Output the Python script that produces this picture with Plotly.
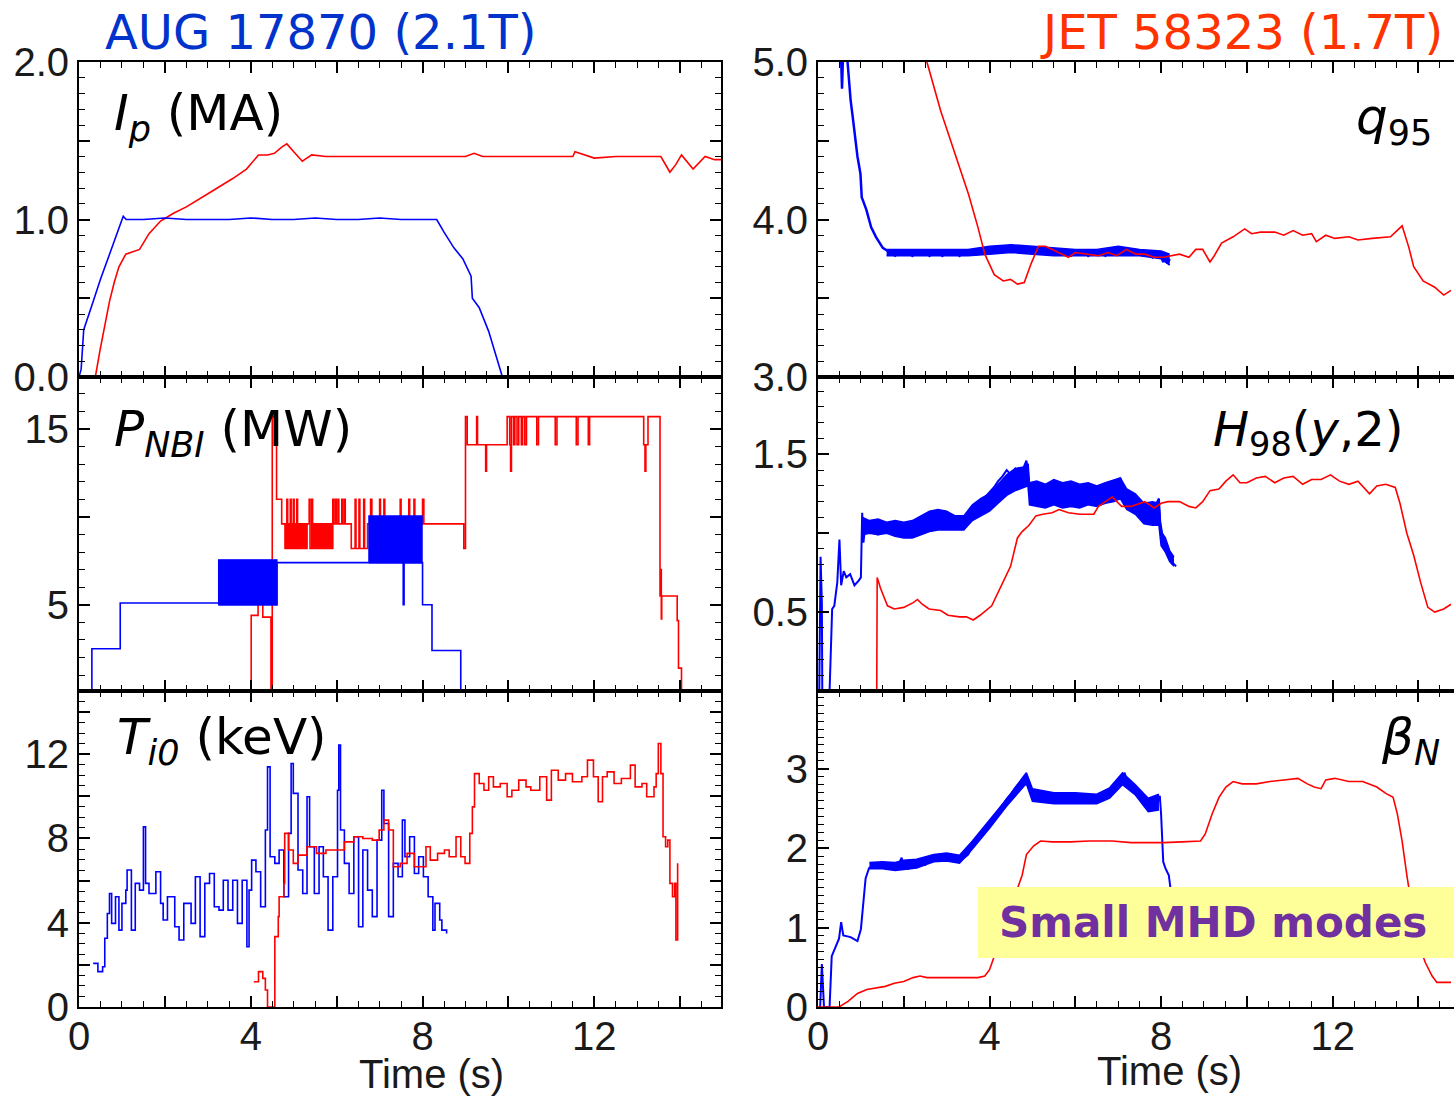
import plotly.graph_objects as go

# the page body margin is removed in the written page, so figure pixels map 1:1 onto the window
OFF = 0
FW, FH = 1454 - OFF, 1098 - OFF

# ---------------- data ----------------
# Ip (MA)
ip_aug_t = [0.0, 0.05, 0.11, 0.2, 0.33, 0.5, 0.66, 0.85, 0.98, 1.03, 1.1, 1.5, 2.0, 2.5, 3.0, 3.5, 4.0, 4.5,
            5.0, 5.5, 6.0, 6.5, 7.0, 7.5, 8.0, 8.33, 8.5, 8.73, 8.94, 9.05, 9.1, 9.13, 9.16, 9.32, 9.54, 9.7, 9.86]
ip_aug = [0.0, 0.05, 0.3, 0.38, 0.48, 0.62, 0.74, 0.88, 0.98, 1.02, 1.0, 1.0, 1.01, 1.0, 1.0, 1.0, 1.01, 1.0,
          1.0, 1.01, 1.0, 1.0, 1.01, 1.0, 1.0, 1.0, 0.92, 0.82, 0.75, 0.68, 0.66, 0.64, 0.5, 0.44, 0.29, 0.15, 0.0]
ip_jet_t = [0.0, 0.38, 0.49, 0.6, 0.71, 0.82, 0.93, 1.09, 1.3, 1.41, 1.63, 1.9, 2.2, 2.5, 3.04, 3.58, 3.9, 4.18,
            4.39, 4.55, 4.72, 4.84, 5.0, 5.2, 5.42, 5.75, 6.5, 7.5, 8.5, 9.0, 9.2, 9.4, 10.0, 11.0, 11.5, 11.55,
            12.0, 12.5, 13.0, 13.55, 13.76, 13.9, 14.03, 14.3, 14.58, 14.8, 15.0]
ip_jet = [0.0, 0.0, 0.17, 0.33, 0.48, 0.6, 0.70, 0.78, 0.80, 0.81, 0.91, 0.99, 1.04, 1.08, 1.17, 1.26, 1.32, 1.41,
          1.41, 1.42, 1.46, 1.48, 1.43, 1.37, 1.41, 1.40, 1.40, 1.40, 1.40, 1.40, 1.42, 1.40, 1.40, 1.40, 1.40, 1.43,
          1.39, 1.40, 1.40, 1.40, 1.30, 1.35, 1.41, 1.32, 1.40, 1.38, 1.38]

# P_NBI (MW), step signals
pnbi_aug_t = [0.29, 0.3, 0.96, 3.26, 4.61, 7.55, 7.57, 8.0, 8.22, 8.89, 9.0]
pnbi_aug = [0.0, 2.5, 5.1, 5.0, 7.4, 5.0, 7.4, 5.0, 2.4, 0.0, 0.0]
aug_band_t0 = [3.25, 6.75]
aug_band_t1 = [4.61, 7.99]
aug_band_lo = [5.0, 7.38]
aug_band_hi = [7.56, 10.05]

pnbi_jet_t = [4.0, 4.01, 4.17, 4.28, 4.47, 4.50, 4.60, 4.72, 4.80, 4.84, 4.86, 4.92, 4.94, 4.99, 5.01, 5.07,
              5.09, 5.31, 5.36, 5.38, 5.42, 5.44, 5.91, 5.93, 5.97, 5.99, 6.03, 6.05, 6.12, 6.14, 6.18, 6.2,
              6.34, 6.43, 6.45, 6.52, 6.54, 6.63, 6.65, 6.72, 6.79, 6.82, 6.86, 7.0, 7.02, 7.1, 7.12, 7.2,
              7.24, 7.48, 7.5, 7.62, 7.66, 7.68, 7.7, 7.8, 7.82, 8.0, 8.03, 8.96, 9.0, 9.04, 9.26, 9.28,
              9.47, 9.49, 9.97, 10.03, 10.05, 10.07, 10.12, 10.15, 10.2, 10.24, 10.3, 10.33, 10.38, 10.42,
              10.66, 10.7, 11.09, 11.13, 11.58, 11.62, 11.86, 11.89, 13.15, 13.18, 13.2, 13.25, 13.53,
              13.55, 13.56, 13.57, 13.93, 13.96, 14.03]
pnbi_jet = [0.0, 4.4, 5.5, 4.3, 0.0, 15.7, 11.0, 9.6, 8.2, 11.0, 8.2, 11.0, 8.2, 11.0, 8.2, 11.0,
            8.2, 9.6, 11.0, 8.2, 11.0, 8.2, 11.0, 9.6, 11.0, 9.6, 11.0, 9.6, 11.0, 9.6, 11.0, 9.6,
            8.2, 11.0, 8.2, 11.0, 8.2, 11.0, 8.2, 9.6, 11.0, 8.2, 9.6, 11.0, 9.6, 11.0, 9.6, 8.2,
            9.6, 11.0, 9.6, 8.2, 9.6, 11.0, 9.6, 11.0, 9.6, 11.0, 9.6, 8.2, 15.7, 14.1, 15.7, 14.1,
            12.6, 14.1, 15.7, 14.1, 12.6, 15.7, 14.1, 15.7, 14.1, 15.7, 14.1, 15.7, 14.1, 15.7,
            14.1, 15.7, 14.1, 15.7, 14.1, 15.7, 14.1, 15.7, 14.1, 12.6, 14.1, 15.7, 5.5,
            7.0, 4.2, 5.5, 4.1, 1.4, 0.0]
jet_band_t0 = [4.80, 5.45]
jet_band_t1 = [5.30, 5.88]
jet_band_lo = [8.24, 8.24]
jet_band_hi = [9.62, 9.62]

# Ti0 (keV)
ti_aug_t = [0.33, 0.44, 0.55, 0.60, 0.66, 0.71, 0.76, 0.85, 0.93, 1.0, 1.09, 1.12, 1.22, 1.31, 1.41, 1.50, 1.55,
            1.63, 1.79, 1.90, 1.96, 2.06, 2.23, 2.33, 2.44, 2.61, 2.71, 2.82, 2.93, 3.04, 3.15, 3.26, 3.36, 3.47,
            3.58, 3.69, 3.80, 3.91, 3.96, 4.02, 4.12, 4.23, 4.34, 4.39, 4.45, 4.56, 4.66, 4.77, 4.88, 4.94, 4.99,
            5.10, 5.21, 5.31, 5.37, 5.48, 5.59, 5.69, 5.80, 5.91, 6.02, 6.05, 6.09, 6.18, 6.29, 6.40, 6.51, 6.61,
            6.72, 6.83, 6.94, 7.05, 7.10, 7.21, 7.32, 7.43, 7.53, 7.59, 7.70, 7.81, 7.91, 8.02, 8.13, 8.24, 8.29,
            8.40, 8.45, 8.56]
ti_aug = [2.07, 1.68, 1.91, 3.26, 4.44, 5.39, 3.97, 5.23, 3.65, 4.92, 5.55, 6.5, 3.65, 5.87, 5.55, 8.55, 5.87,
          5.39, 6.42, 4.92, 4.13, 5.23, 3.81, 3.18, 4.92, 3.97, 6.18, 3.34, 5.87, 6.34, 4.76, 4.60, 6.02, 4.60,
          6.02, 3.97, 6.02, 2.86, 5.55, 6.97, 6.42, 4.76, 8.40, 11.40, 7.13, 6.82, 7.45, 5.23, 8.24, 11.56, 10.14,
          6.50, 5.39, 9.98, 7.61, 5.39, 7.61, 6.18, 3.65, 6.18, 10.29, 12.43, 8.40, 6.82, 5.39, 8.08, 3.81, 7.45,
          5.55, 4.29, 7.92, 10.29, 8.71, 4.29, 6.82, 6.18, 8.87, 7.13, 8.08, 6.34, 7.13, 6.18, 5.23, 3.65, 4.92,
          4.13, 3.65, 3.49]
ti_jet_t = [4.07, 4.18, 4.28, 4.34, 4.39, 4.50, 4.56, 4.64, 4.66, 4.77, 4.79, 4.88, 4.99, 5.10, 5.31, 5.53, 5.75,
            5.96, 6.18, 6.40, 6.61, 6.83, 6.99, 7.10, 7.21, 7.32, 7.48, 7.64, 7.81, 7.97, 8.08, 8.18, 8.35, 8.51,
            8.62, 8.78, 8.89, 8.99, 9.10, 9.16, 9.21, 9.32, 9.43, 9.54, 9.65, 9.81, 9.97, 10.08, 10.24, 10.41,
            10.52, 10.73, 10.89, 11.00, 11.16, 11.33, 11.49, 11.71, 11.84, 11.98, 12.09, 12.19, 12.30, 12.46,
            12.63, 12.84, 12.95, 13.11, 13.22, 13.39, 13.44, 13.49, 13.55, 13.60, 13.66, 13.71, 13.76, 13.82,
            13.87, 13.90, 13.94]
ti_jet = [1.20, 1.68, 1.36, 0.81, 0.0, 0.0, 3.34, 4.29, 5.23, 5.87, 8.24, 7.45, 6.82, 7.21, 7.61, 7.29, 7.45,
          7.45, 7.84, 8.08, 8.00, 7.92, 8.40, 8.87, 8.40, 6.66, 6.82, 7.29, 6.66, 6.66, 7.61, 6.97, 7.29, 7.45,
          7.13, 8.08, 7.13, 6.82, 8.24, 9.50, 11.08, 10.61, 10.29, 10.93, 10.45, 10.61, 9.98, 10.29, 10.77, 10.45,
          10.29, 10.93, 9.82, 11.24, 10.77, 11.08, 10.69, 10.93, 11.72, 10.93, 9.74, 10.93, 11.16, 10.61,
          10.85, 11.48, 10.45, 10.61, 9.98, 10.45, 11.08, 12.51, 11.08, 8.08, 7.61, 7.92, 5.87, 5.23,
          5.87, 3.18, 6.82]

# q95
q_aug_t = [0.45, 0.52, 0.56, 0.60, 0.66, 0.70, 0.76, 0.81, 0.86, 0.92, 0.99, 1.02, 1.05, 1.13, 1.24, 1.35, 1.51,
           1.68, 1.8, 1.9, 2.0, 2.1, 2.2, 2.3, 2.4, 2.5, 2.6, 2.7, 2.8, 2.9, 3.0, 3.1, 3.2, 3.3, 3.4, 3.5, 3.6,
           3.7, 3.8, 3.9, 4.0, 4.1, 4.2, 4.3, 4.4, 4.5, 4.6, 4.7, 4.8, 4.9, 5.0, 5.1, 5.2, 5.3, 5.4, 5.5, 5.6,
           5.7, 5.8, 5.9, 6.0, 6.1, 6.2, 6.3, 6.4, 6.5, 6.6, 6.7, 6.8, 6.9, 7.0, 7.1, 7.2, 7.3, 7.4, 7.5, 7.6,
           7.7, 7.8, 7.9, 8.0, 8.05, 8.1, 8.15, 8.2]
q_aug = [5.3, 5.2, 4.83, 5.2, 5.1, 4.95, 4.76, 4.65, 4.52, 4.40, 4.29, 4.14, 4.12, 4.06, 3.95, 3.89, 3.82,
         3.79, 3.77, 3.80, 3.78, 3.80, 3.77, 3.79, 3.78, 3.80, 3.77, 3.79, 3.80, 3.77, 3.79, 3.78, 3.80, 3.77,
         3.79, 3.78, 3.80, 3.78, 3.80, 3.79, 3.81, 3.79, 3.82, 3.80, 3.82, 3.80, 3.82, 3.81, 3.82, 3.80, 3.81,
         3.79, 3.81, 3.79, 3.80, 3.78, 3.80, 3.78, 3.79, 3.77, 3.79, 3.78, 3.80, 3.77, 3.79, 3.78, 3.79, 3.77,
         3.79, 3.78, 3.80, 3.81, 3.79, 3.80, 3.78, 3.79, 3.77, 3.79, 3.76, 3.78, 3.77, 3.73, 3.76, 3.72, 3.75]
# noise envelope of the AUG q95 trace
q_band_t = [1.6, 2.5, 3.5, 4.0, 4.5, 5.0, 5.5, 6.0, 6.5, 7.0, 7.5, 8.0, 8.2]
q_band_hi = [3.81, 3.81, 3.81, 3.83, 3.84, 3.83, 3.82, 3.81, 3.81, 3.83, 3.81, 3.80, 3.78]
q_band_lo = [3.77, 3.77, 3.77, 3.78, 3.79, 3.78, 3.77, 3.77, 3.77, 3.77, 3.77, 3.75, 3.71]
q_jet_t = [2.45, 2.54, 2.86, 3.19, 3.51, 3.73, 3.89, 4.11, 4.32, 4.49, 4.65, 4.81, 4.97, 5.14, 5.30, 5.46, 5.62,
           5.84, 6.0, 6.32, 6.54, 6.76, 6.97, 7.19, 7.41, 7.62, 7.84, 8.05, 8.27, 8.43, 8.65, 8.81, 8.97, 9.14,
           9.24, 9.41, 9.68, 9.95, 10.11, 10.32, 10.65, 10.86, 11.08, 11.3, 11.51, 11.62, 11.84, 12.05, 12.38,
           12.59, 12.92, 13.35, 13.62, 13.78, 13.89, 14.11, 14.38, 14.59, 14.76]
q_jet = [5.2, 5.0, 4.69, 4.42, 4.16, 3.95, 3.78, 3.65, 3.61, 3.62, 3.59, 3.60, 3.72, 3.83, 3.83, 3.81, 3.79,
         3.76, 3.79, 3.78, 3.77, 3.79, 3.77, 3.81, 3.78, 3.78, 3.76, 3.76, 3.77, 3.78, 3.76, 3.81, 3.81, 3.73,
         3.77, 3.85, 3.89, 3.94, 3.91, 3.92, 3.92, 3.90, 3.93, 3.90, 3.91, 3.86, 3.90, 3.88, 3.89,
         3.87, 3.88, 3.89, 3.96, 3.82, 3.70, 3.61, 3.57, 3.52, 3.55]

# H98(y,2)
h_aug_t = [0.03, 0.06, 0.09, 0.1, 0.27, 0.29, 0.33, 0.38, 0.45, 0.5, 0.54, 0.6, 0.66, 0.75, 0.85, 0.95, 1.0,
           1.03, 1.06, 1.1, 1.2, 1.3, 1.4, 1.5, 1.6, 1.7, 1.8, 1.9, 2.0, 2.1, 2.2, 2.3, 2.4, 2.5, 2.6, 2.7, 2.8,
           2.9, 3.0, 3.1, 3.2, 3.3, 3.4, 3.5, 3.6, 3.7, 3.8, 3.9, 4.0, 4.1, 4.2, 4.3, 4.4, 4.5, 4.6, 4.7, 4.8,
           4.86, 4.9, 4.92, 5.0, 5.1, 5.2, 5.3, 5.4, 5.5, 5.6, 5.7, 5.8, 5.9, 6.0, 6.1, 6.2, 6.3, 6.4, 6.5, 6.6,
           6.7, 6.8, 6.9, 7.0, 7.05, 7.1, 7.2, 7.3, 7.4, 7.5, 7.6, 7.67, 7.75, 7.85, 7.95, 7.98, 8.05, 8.15,
           8.2, 8.28, 8.35]
h_aug = [0.0, 0.85, 0.56, 0.0, 0.0, 0.22, 0.52, 0.54, 0.69, 0.96, 0.67, 0.76, 0.72, 0.74, 0.67, 0.70, 0.72,
         1.13, 0.94, 1.05, 1.02, 1.06, 0.99, 1.04, 1.01, 1.05, 0.98, 1.03, 1.00, 1.05, 0.99, 1.04, 1.08, 1.05,
         1.12, 1.08, 1.11, 1.06, 1.09, 1.04, 1.07, 1.03, 1.08, 1.10, 1.15, 1.17, 1.20, 1.23, 1.26, 1.29, 1.33,
         1.36, 1.40, 1.37, 1.41, 1.38, 1.42, 1.46, 1.38, 1.24, 1.27, 1.21, 1.29, 1.23, 1.28, 1.20, 1.26, 1.22,
         1.29, 1.23, 1.27, 1.21, 1.26, 1.22, 1.28, 1.24, 1.30, 1.25, 1.31, 1.27, 1.33, 1.35, 1.28, 1.24, 1.21,
         1.18, 1.20, 1.12, 1.07, 1.13, 1.17, 1.22, 1.07, 0.96, 0.92, 0.86, 0.81, 0.79]
# noise envelope of the AUG H98 trace
h_band_t = [1.04, 1.2, 1.4, 1.6, 1.8, 2.0, 2.2, 2.4, 2.6, 2.8, 3.0, 3.2, 3.4, 3.6, 3.8, 4.0, 4.2, 4.4, 4.6,
            4.8, 4.9, 4.93, 5.1, 5.3, 5.5, 5.7, 5.9, 6.1, 6.3, 6.5, 6.7, 6.9, 7.05, 7.2, 7.4, 7.6, 7.8, 7.95,
            8.0, 8.1, 8.2, 8.3]
h_band_hi = [1.10, 1.08, 1.09, 1.07, 1.08, 1.07, 1.08, 1.11, 1.14, 1.15, 1.14, 1.11, 1.11, 1.18, 1.22, 1.25,
             1.31, 1.37, 1.41, 1.42, 1.44, 1.32, 1.33, 1.31, 1.34, 1.32, 1.33, 1.31, 1.32, 1.30, 1.32, 1.34,
             1.35, 1.28, 1.25, 1.19, 1.20, 1.19, 1.01, 0.97, 0.89, 0.85]
h_band_lo = [0.99, 1.00, 0.99, 1.00, 0.98, 0.97, 0.97, 0.99, 1.01, 1.02, 1.02, 1.02, 1.02, 1.08, 1.11, 1.14,
             1.19, 1.24, 1.27, 1.29, 1.30, 1.18, 1.17, 1.16, 1.18, 1.16, 1.17, 1.16, 1.18, 1.17, 1.19, 1.20,
             1.22, 1.15, 1.12, 1.06, 1.05, 1.05, 0.92, 0.88, 0.82, 0.79]
h_jet_t = [1.37, 1.38, 1.46, 1.62, 1.78, 2.0, 2.22, 2.32, 2.43, 2.59, 2.86, 3.03, 3.30, 3.46, 3.62, 3.78, 4.05,
           4.27, 4.49, 4.65, 4.76, 4.92, 5.08, 5.24, 5.46, 5.62, 5.84, 6.11, 6.43, 6.54, 6.86, 7.08, 7.30, 7.62,
           7.84, 8.0, 8.16, 8.43, 8.65, 8.81, 8.97, 9.14, 9.35, 9.51, 9.68, 9.84, 10.0, 10.22, 10.43, 10.65,
           10.86, 11.08, 11.30, 11.51, 11.73, 11.95, 12.16, 12.38, 12.59, 12.86, 13.03, 13.24, 13.46, 13.57,
           13.73, 13.89, 14.05, 14.22, 14.38, 14.59, 14.76]
h_jet = [0.0, 0.72, 0.65, 0.54, 0.52, 0.53, 0.56, 0.58, 0.55, 0.52, 0.51, 0.48, 0.47, 0.47, 0.45, 0.48, 0.54,
         0.67, 0.79, 0.97, 1.01, 1.05, 1.11, 1.12, 1.13, 1.15, 1.13, 1.12, 1.12, 1.17, 1.23, 1.17, 1.17, 1.20,
         1.16, 1.19, 1.20, 1.20, 1.17, 1.16, 1.20, 1.27, 1.28, 1.33, 1.37, 1.32, 1.32, 1.35, 1.36, 1.32,
         1.35, 1.36, 1.31, 1.34, 1.34, 1.37, 1.33, 1.31, 1.33, 1.25, 1.30, 1.31, 1.29, 1.19,
         1.0, 0.86, 0.69, 0.53, 0.50, 0.52, 0.55]

# beta_N
b_aug_t = [0.05, 0.09, 0.14, 0.27, 0.32, 0.43, 0.49, 0.54, 0.59, 0.76, 0.92, 1.0, 1.06, 1.11, 1.19, 1.3, 1.4,
           1.5, 1.6, 1.7, 1.8, 1.9, 1.95, 2.0, 2.1, 2.2, 2.3, 2.4, 2.5, 2.6, 2.7, 2.8, 2.9, 3.0, 3.1, 3.2, 3.3,
           3.4, 3.5, 3.6, 3.7, 3.8, 3.9, 4.0, 4.1, 4.2, 4.3, 4.4, 4.5, 4.6, 4.7, 4.8, 4.86, 4.9, 5.0, 5.1, 5.2,
           5.3, 5.4, 5.5, 5.6, 5.7, 5.8, 5.9, 6.0, 6.1, 6.2, 6.3, 6.4, 6.5, 6.6, 6.7, 6.8, 6.9, 7.0, 7.1, 7.15,
           7.2, 7.3, 7.4, 7.5, 7.6, 7.7, 7.8, 7.9, 7.97, 8.0, 8.02, 8.05, 8.1, 8.18, 8.22, 8.3]
b_aug = [0.0, 0.54, 0.0, 0.0, 0.64, 0.77, 0.86, 1.07, 0.90, 0.88, 0.83, 0.98, 1.32, 1.62, 1.75, 1.79, 1.75,
         1.80, 1.76, 1.79, 1.74, 1.82, 1.88, 1.78, 1.74, 1.79, 1.76, 1.82, 1.79, 1.86, 1.84, 1.90, 1.87, 1.91,
         1.86, 1.88, 1.83, 1.87, 1.92, 2.02, 2.10, 2.16, 2.22, 2.28, 2.38, 2.46, 2.54, 2.62, 2.68, 2.76, 2.82,
         2.86, 2.92, 2.82, 2.70, 2.62, 2.68, 2.60, 2.66, 2.59, 2.65, 2.60, 2.67, 2.60, 2.64, 2.58, 2.66, 2.60,
         2.65, 2.59, 2.64, 2.68, 2.74, 2.78, 2.84, 2.90, 2.95, 2.85, 2.80, 2.74, 2.71, 2.64, 2.52, 2.48, 2.55,
         2.66, 2.43, 2.13, 1.83, 1.75, 1.66, 1.49, 1.2]
# noise envelope of the AUG beta_N trace
b_band_t = [1.2, 1.5, 1.8, 2.0, 2.3, 2.7, 3.0, 3.3, 3.6, 4.0, 4.4, 4.8, 4.86, 5.0, 5.5, 6.0, 6.5, 6.8, 7.1,
            7.4, 7.7, 7.95]
b_band_hi = [1.82, 1.83, 1.82, 1.85, 1.86, 1.92, 1.94, 1.91, 2.09, 2.35, 2.62, 2.91, 2.95, 2.75, 2.70, 2.70,
             2.68, 2.76, 2.95, 2.80, 2.63, 2.68]
b_band_lo = [1.74, 1.74, 1.72, 1.73, 1.75, 1.83, 1.84, 1.81, 1.99, 2.25, 2.53, 2.78, 2.81, 2.59, 2.56, 2.56,
             2.56, 2.63, 2.80, 2.67, 2.46, 2.48]
b_jet_t = [0.0, 0.49, 0.70, 0.92, 1.14, 1.35, 1.57, 1.78, 2.0, 2.22, 2.38, 2.54, 3.30, 3.73, 3.89, 4.0, 4.11,
           4.27, 4.49, 4.65, 4.76, 4.86, 5.03, 5.19, 5.46, 5.89, 6.32, 6.86, 7.30, 8.05, 8.49, 8.92, 9.03, 9.19,
           9.35, 9.51, 9.68, 9.89, 10.22, 10.54, 10.86, 11.19, 11.41, 11.57, 11.73, 11.84, 12.05, 12.38, 12.70,
           13.03, 13.24, 13.41, 13.51, 13.62, 13.73, 13.84, 14.0, 14.16, 14.32, 14.43, 14.76]
b_jet = [0.0, 0.0, 0.07, 0.17, 0.22, 0.24, 0.26, 0.30, 0.32, 0.37, 0.39, 0.37, 0.37, 0.37, 0.39, 0.47, 0.64,
         0.90, 1.15, 1.49, 1.66, 1.92, 2.03, 2.09, 2.08, 2.08, 2.09, 2.09, 2.07, 2.07, 2.08, 2.09, 2.18, 2.43,
         2.64, 2.77, 2.84, 2.81, 2.81, 2.84, 2.86, 2.88, 2.81, 2.77, 2.75, 2.86, 2.88, 2.84, 2.84,
         2.77, 2.69, 2.64, 2.43, 2.09, 1.66, 1.28, 0.81, 0.56, 0.39, 0.31, 0.31]

# ---------------- figure ----------------
RED = "#ff0000"
BLUE = "#0000ff"
TICKFONT = dict(family="Liberation Sans, Arial, sans-serif", size=40, color="#1a1a1a")
LABFONT = "DejaVu Sans, Verdana, sans-serif"


def PX(px):  # screen pixel -> paper x
    return (px - OFF) / FW


def PY(py):  # screen pixel -> paper y
    return 1 - (py - OFF) / FH


fig = go.Figure()


def line(x, y, ax, color, width=1.6, shape="linear"):
    fig.add_trace(go.Scatter(x=x, y=y, xaxis="x" + ax, yaxis="y" + ax, mode="lines",
                             line=dict(color=color, width=width, shape=shape),
                             showlegend=False, hoverinfo="skip"))


def bands(t0, t1, lo, hi, ax, color):
    for a, b, l, h in zip(t0, t1, lo, hi):
        fig.add_trace(go.Scatter(x=[a, b, b, a, a], y=[l, l, h, h, l], xaxis="x" + ax, yaxis="y" + ax,
                                 mode="lines", fill="toself", fillcolor=color,
                                 line=dict(color=color, width=1.2), showlegend=False, hoverinfo="skip"))


def envelope(t, lo, hi, ax, color):
    fig.add_trace(go.Scatter(x=t, y=lo, xaxis="x" + ax, yaxis="y" + ax, mode="lines",
                             line=dict(color=color, width=1.5), showlegend=False, hoverinfo="skip"))
    fig.add_trace(go.Scatter(x=t, y=hi, xaxis="x" + ax, yaxis="y" + ax, mode="lines", fill="tonexty",
                             fillcolor=color, line=dict(color=color, width=1.5), showlegend=False,
                             hoverinfo="skip"))


# panel 1: Ip
line(ip_jet_t, ip_jet, "", RED)
line(ip_aug_t, ip_aug, "", BLUE)
# panel 2: q95
envelope(q_band_t, q_band_lo, q_band_hi, "2", BLUE)
line(q_aug_t, q_aug, "2", BLUE, width=2.5)
line(q_jet_t, q_jet, "2", RED)
# panel 3: PNBI
bands(jet_band_t0, jet_band_t1, jet_band_lo, jet_band_hi, "3", RED)
line(pnbi_jet_t, pnbi_jet, "3", RED, shape="hv")
bands(aug_band_t0, aug_band_t1, aug_band_lo, aug_band_hi, "3", BLUE)
line(pnbi_aug_t, pnbi_aug, "3", BLUE, shape="hv")
# panel 4: H98
envelope(h_band_t, h_band_lo, h_band_hi, "4", BLUE)
line(h_aug_t, h_aug, "4", BLUE, width=2)
line(h_jet_t, h_jet, "4", RED)
# panel 5: Ti0
line(ti_aug_t, ti_aug, "5", BLUE, shape="hv")
line(ti_jet_t, ti_jet, "5", RED, shape="hv")
# panel 6: betaN
envelope(b_band_t, b_band_lo, b_band_hi, "6", BLUE)
line(b_aug_t, b_aug, "6", BLUE, width=2)
line(b_jet_t, b_jet, "6", RED)

LX = [PX(79), PX(721)]
RX = [PX(818), 1.0]
ROWS = [[PY(377), PY(62)], [PY(691), PY(377)], [PY(1007), PY(691)]]

MINOR_STYLE = dict(ticks="inside", ticklen=6, tickwidth=1.2, tickcolor="black")


def xax(dom, rng, labels, anchor):
    return dict(domain=dom, range=rng, anchor=anchor, tickmode="linear", tick0=0, dtick=2, ticklabelstep=2,
                showticklabels=labels, ticks="inside", ticklen=11, tickwidth=1.6,
                tickcolor="black", showline=True, linewidth=2, linecolor="black", mirror="allticks",
                showgrid=False, zeroline=False, tickfont=TICKFONT, ticklabelstandoff=-7, automargin=False,
                minor=dict(MINOR_STYLE, dtick=0.5, tick0=0))


def yax(dom, rng, t0, dt, step, fmt, mdt, anchor, mirror):
    return dict(domain=dom, range=rng, anchor=anchor, tickmode="linear", tick0=t0, dtick=dt,
                ticklabelstep=step, tickformat=fmt,
                ticks="inside", ticklen=11, tickwidth=1.6, tickcolor="black", showline=True, linewidth=2,
                linecolor="black", mirror=mirror, showgrid=False, zeroline=False, tickfont=TICKFONT,
                ticklabelstandoff=0, automargin=False,
                minor=dict(MINOR_STYLE, dtick=mdt, tick0=0))


LR = [0, 14.95]
RR = [0, 14.83]
fig.update_layout(
    width=FW, height=FH, margin=dict(l=0, r=0, t=0, b=0, pad=0, autoexpand=False),
    paper_bgcolor="white", plot_bgcolor="white",
    xaxis=xax(LX, LR, False, "y"),
    xaxis2=xax(RX, RR, False, "y2"),
    xaxis3=xax(LX, LR, False, "y3"),
    xaxis4=xax(RX, RR, False, "y4"),
    xaxis5=xax(LX, LR, True, "y5"),
    xaxis6=xax(RX, RR, True, "y6"),
    yaxis=yax(ROWS[0], [0, 2.0], 0, 0.5, 2, ".1f", 0.1, "x", "allticks"),
    yaxis2=yax(ROWS[0], [3.0, 5.0], 3, 0.5, 2, ".1f", 0.1, "x2", False),
    yaxis3=yax(ROWS[1], [0.1, 17.95], 5, 5, 2, "d", 1, "x3", "allticks"),
    yaxis4=yax(ROWS[1], [0.0, 1.99], 0.5, 0.5, 2, ".1f", 0.1, "x4", False),
    yaxis5=yax(ROWS[2], [0, 15.0], 0, 2, 2, "d", 0.5, "x5", "allticks"),
    yaxis6=yax(ROWS[2], [0, 3.98], 0, 1, 1, "d", 0.1, "x6", False),
)

# yellow box
fig.add_shape(type="rect", xref="paper", yref="paper", x0=PX(978), x1=1.0, y0=PY(958), y1=PY(887),
              fillcolor="#ffff99", line=dict(width=0), layer="above")


def ann(text, x, y, xanchor, size, color="black", family=LABFONT):
    fig.add_annotation(text=text, x=PX(x), y=PY(y), xref="paper", yref="paper", xanchor=xanchor,
                       yanchor="middle", showarrow=False, font=dict(family=family, size=size, color=color))


ann("<b>Small MHD modes</b>", 1213, 922, "center", 42, color="#7030a0")

ann("AUG 17870 (2.1T)", 320, 32, "center", 48, color="#0033cc")
ann("JET 58323 (1.7T)", 1445, 32, "right", 48, color="#ff3300")

ann("<i>I<sub>p</sub></i> (MA)", 112, 116, "left", 50)
ann("<i>P<sub>NBI</sub></i> (MW)", 112, 432, "left", 50)
ann("<i>T<sub>i0</sub></i> (keV)", 115, 740, "left", 50)
ann("<i>q</i><sub>95</sub>", 1434, 120, "right", 50)
ann("<i>H</i><sub>98</sub>(<i>y</i>,2)", 1406, 432, "right", 48)
ann("<i>β<sub>N</sub></i>", 1442, 740, "right", 50)

fig.add_annotation(text="Time (s)", x=8.2, xref="x5", y=PY(1074), yref="paper", showarrow=False,
                   xanchor="center", yanchor="middle", font=TICKFONT)
fig.add_annotation(text="Time (s)", x=8.2, xref="x6", y=PY(1071), yref="paper", showarrow=False,
                   xanchor="center", yanchor="middle", font=TICKFONT)

fig.write_html("out.html", config={"displayModeBar": False},
               post_script="document.body.style.margin='0px'; document.body.style.overflow='hidden';")
